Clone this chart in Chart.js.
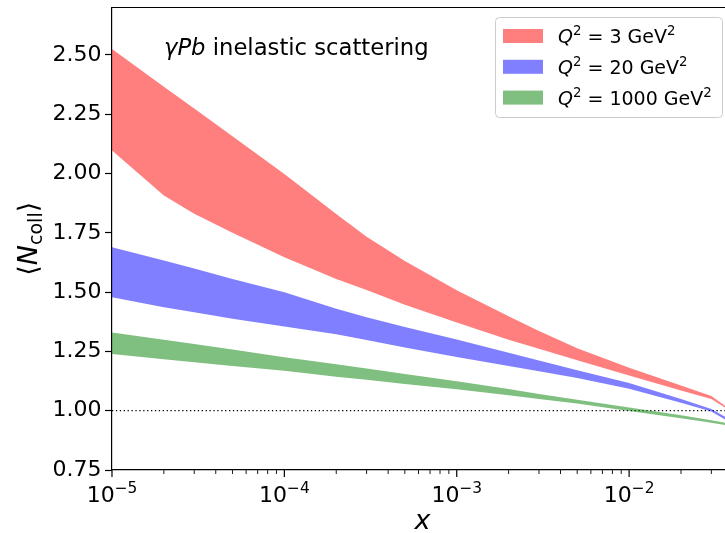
<!DOCTYPE html>
<html>
<head>
<meta charset="utf-8">
<script src="https://cdn.jsdelivr.net/npm/chart.js@4/dist/chart.umd.min.js"></script>
<style>
  html, body { margin: 0; padding: 0; background: #fff; overflow: hidden; }
</style>
</head>
<body>
<canvas id="chart" width="725" height="533"></canvas>
<script>
// x values (log scale) where the bands are sampled
const xs = [1e-5, 2e-5, 3e-5, 5e-5, 1e-4, 2e-4, 3e-4, 5e-4, 1e-3, 2e-3, 3e-3, 5e-3, 1e-2, 2e-2, 3e-2, 3.6e-2];

// Q^2 = 3 GeV^2 band
const q3Upper = [2.525, 2.366, 2.274, 2.157, 1.998, 1.829, 1.733, 1.631, 1.508, 1.398, 1.336, 1.263, 1.181, 1.106, 1.062, 1.021];
const q3Lower = [2.097, 1.907, 1.830, 1.750, 1.647, 1.555, 1.509, 1.447, 1.372, 1.299, 1.261, 1.213, 1.148, 1.085, 1.049, 1.014];
// Q^2 = 20 GeV^2 band
const q20Upper = [1.689, 1.633, 1.600, 1.555, 1.499, 1.430, 1.394, 1.353, 1.300, 1.244, 1.212, 1.171, 1.117, 1.049, 1.007, 0.974];
const q20Lower = [1.478, 1.436, 1.415, 1.388, 1.355, 1.322, 1.298, 1.266, 1.226, 1.188, 1.166, 1.138, 1.093, 1.034, 0.997, 0.963];
// Q^2 = 1000 GeV^2 band
const q1000Upper = [1.330, 1.299, 1.281, 1.258, 1.225, 1.196, 1.178, 1.155, 1.124, 1.091, 1.070, 1.046, 1.014, 0.981, 0.960, 0.949];
const q1000Lower = [1.239, 1.217, 1.204, 1.188, 1.168, 1.143, 1.130, 1.113, 1.090, 1.065, 1.049, 1.030, 0.999, 0.968, 0.949, 0.940];

const refLevel = 1.0;
const xRange = [1e-5, 3.6e-2];
const yRange = [0.75, 2.70];
const yTicks = [0.75, 1.00, 1.25, 1.50, 1.75, 2.00, 2.25, 2.50];
const xTickExps = [-5, -4, -3, -2];
const legendLabels = ['3', '20', '1000'];

const RED = 'rgba(255,0,0,0.5)';
const BLUE = 'rgba(0,0,255,0.5)';
const GREEN = 'rgba(0,128,0,0.5)';
const FONT = "'DejaVu Sans'";

const pts = arr => arr.map((y, i) => ({ x: xs[i], y }));

function band(vals, color, fill) {
  return {
    data: pts(vals),
    borderColor: color,
    backgroundColor: color,
    borderWidth: 0,
    pointRadius: 0,
    tension: 0,
    fill: fill
  };
}

// draws "base" + raised "exp", returns width
function drawSup(ctx, base, exp, x, y, size, italicBase, measureOnly) {
  ctx.font = (italicBase ? 'italic ' : '') + size + 'px ' + FONT;
  const wb = ctx.measureText(base).width;
  const es = size * 0.7;
  ctx.font = es + 'px ' + FONT;
  const we = ctx.measureText(exp).width;
  if (!measureOnly) {
    ctx.font = (italicBase ? 'italic ' : '') + size + 'px ' + FONT;
    ctx.fillText(base, x, y);
    ctx.font = es + 'px ' + FONT;
    ctx.fillText(exp, x + wb, y - size * 0.42);
  }
  return wb + we;
}

const decor = {
  id: 'decor',
  afterDraw(chart) {
    const ctx = chart.ctx;
    const xS = chart.scales.x;
    const a = chart.chartArea;
    ctx.save();
    ctx.strokeStyle = '#000';
    ctx.fillStyle = '#000';

    // top spine
    ctx.lineWidth = 1.2;
    ctx.beginPath();
    ctx.moveTo(a.left, a.top);
    ctx.lineTo(a.right, a.top);
    ctx.stroke();

    // x ticks, major + minor
    for (const k of xTickExps) {
      for (let m = 1; m <= 9; m++) {
        const v = m * Math.pow(10, k);
        if (v < xS.min || v > xS.max) continue;
        const px = xS.getPixelForValue(v);
        ctx.lineWidth = m === 1 ? 1.2 : 0.9;
        ctx.beginPath();
        ctx.moveTo(px, a.bottom);
        ctx.lineTo(px, a.bottom + (m === 1 ? 7 : 4));
        ctx.stroke();
      }
    }

    // x tick labels 10^k
    ctx.textBaseline = 'alphabetic';
    ctx.textAlign = 'left';
    for (const k of xTickExps) {
      const px = xS.getPixelForValue(Math.pow(10, k));
      const w = drawSup(ctx, '10', '\u2212' + (-k), 0, 0, 22, false, true);
      drawSup(ctx, '10', '\u2212' + (-k), px - w / 2, a.bottom + 32, 22, false, false);
    }

    // x axis title
    ctx.font = 'italic 27px ' + FONT;
    ctx.textAlign = 'center';
    ctx.fillText('x', (a.left + a.right) / 2 + 4, a.bottom + 59);

    // y axis title <N_coll>
    ctx.save();
    ctx.translate(27, (a.top + a.bottom) / 2);
    ctx.rotate(-Math.PI / 2);
    ctx.textAlign = 'left';
    const parts = [
      ['\u27e8', '27px ', 0],
      ['N', 'italic 27px ', 0],
      ['coll', '19px ', 5],
      ['\u27e9', '27px ', 0]
    ];
    let tw = 0;
    for (const p of parts) { ctx.font = p[1] + FONT; tw += ctx.measureText(p[0]).width; }
    let cx = -tw / 2;
    for (const p of parts) {
      ctx.font = p[1] + FONT;
      ctx.fillText(p[0], cx, 10 + p[2]);
      cx += ctx.measureText(p[0]).width;
    }
    ctx.restore();

    // annotation
    ctx.textAlign = 'left';
    ctx.font = 'italic 22.7px ' + FONT;
    ctx.fillText('\u03b3Pb', 164, 55);
    const wg = ctx.measureText('\u03b3Pb').width;
    ctx.font = '22.7px ' + FONT;
    ctx.fillText(' inelastic scattering', 164 + wg, 55);

    // legend
    const lx = 495.5, ly = 17.5, lw = 227, lh = 100;
    ctx.beginPath();
    ctx.roundRect(lx, ly, lw, lh, 4);
    ctx.fillStyle = 'rgba(255,255,255,0.8)';
    ctx.fill();
    ctx.strokeStyle = '#cccccc';
    ctx.lineWidth = 1;
    ctx.stroke();
    const colors = [RED, BLUE, GREEN];
    for (let i = 0; i < legendLabels.length; i++) {
      const cy = 36 + i * 30.8;
      ctx.fillStyle = colors[i];
      ctx.fillRect(503, cy - 7, 40, 14);
      ctx.fillStyle = '#000';
      let tx = 558;
      const by = cy + 7;
      tx += drawSup(ctx, 'Q', '2', tx, by, 19, true, false);
      ctx.font = '19px ' + FONT;
      const mid = ' = ' + legendLabels[i] + ' GeV';
      ctx.fillText(mid, tx, by);
      tx += ctx.measureText(mid).width;
      ctx.font = (19 * 0.7) + 'px ' + FONT;
      ctx.fillText('2', tx, by - 19 * 0.42);
    }
    ctx.restore();
  }
};

new Chart(document.getElementById('chart'), {
  type: 'line',
  data: {
    datasets: [
      band(q3Upper, RED, '+1'),
      band(q3Lower, RED, false),
      band(q20Upper, BLUE, '+1'),
      band(q20Lower, BLUE, false),
      band(q1000Upper, GREEN, '+1'),
      band(q1000Lower, GREEN, false),
      {
        data: [{ x: xRange[0], y: refLevel }, { x: xRange[1], y: refLevel }],
        borderColor: '#000',
        borderWidth: 1.2,
        borderDash: [1.3, 2.6],
        pointRadius: 0,
        fill: false
      }
    ]
  },
  options: {
    responsive: false,
    animation: false,
    layout: { padding: { left: 49, top: 7.5, right: 0, bottom: 63 } },
    plugins: { legend: { display: false }, tooltip: { enabled: false } },
    scales: {
      x: {
        type: 'logarithmic',
        min: xRange[0],
        max: xRange[1],
        grid: { display: false, drawTicks: false },
        border: { display: true, color: '#000', width: 1.2 },
        ticks: { display: false }
      },
      y: {
        min: yRange[0],
        max: yRange[1],
        afterBuildTicks: s => { s.ticks = yTicks.map(v => ({ value: v })); },
        grid: { display: true, drawOnChartArea: false, drawTicks: true, tickLength: 7, tickColor: '#000', tickWidth: 1.2 },
        border: { display: true, color: '#000', width: 1.2 },
        ticks: {
          color: '#000',
          padding: 3.5,
          font: { family: FONT, size: 22, lineHeight: 0.35 },
          callback: v => Number(v).toFixed(2)
        }
      }
    }
  },
  plugins: [decor]
});
</script>
</body>
</html>
